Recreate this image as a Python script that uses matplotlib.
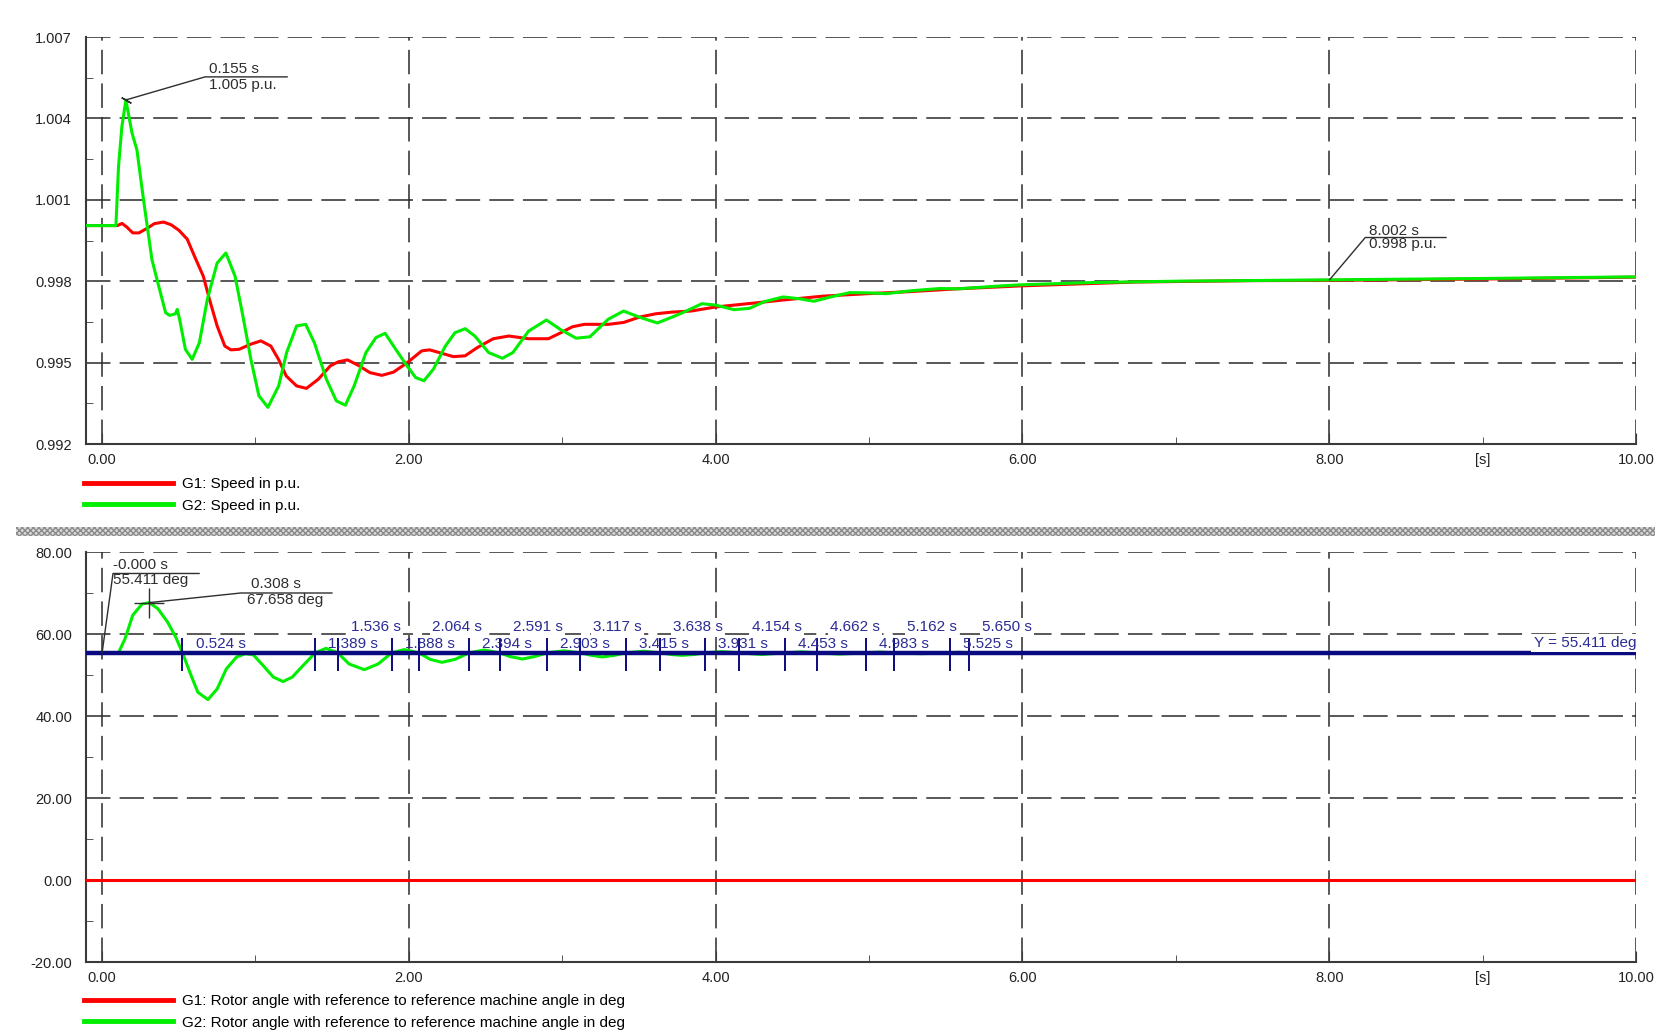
import matplotlib
matplotlib.use("Agg")
import matplotlib.pyplot as plt
from matplotlib.lines import Line2D
from matplotlib.patches import Rectangle
from matplotlib.ticker import MultipleLocator, FormatStrFormatter

plt.rcParams['font.family'] = ['Liberation Sans', 'DejaVu Sans']

# ---- speed (top plot) ----
t_g1_speed = [-0.105, 0.10, 0.13, 0.16, 0.20, 0.24, 0.297, 0.34, 0.40, 0.45, 0.50, 0.555,
              0.60, 0.66, 0.70, 0.75, 0.80, 0.84, 0.893, 0.97, 1.035, 1.10, 1.15, 1.20,
              1.268, 1.332, 1.41, 1.488, 1.54, 1.60, 1.67, 1.746, 1.824, 1.90, 1.99, 2.083,
              2.135, 2.21, 2.29, 2.367, 2.445, 2.55, 2.652, 2.78, 2.91, 2.99, 3.066, 3.144,
              3.30, 3.40, 3.505, 3.61, 3.713, 3.84, 4.0, 4.26, 4.41, 4.70, 4.99, 5.28,
              5.58, 6.0, 6.74, 7.5, 8.0, 9.0, 10.0]
g1_speed = [1.00005, 1.00005, 1.00013, 1.00000, 0.99978, 0.99978, 0.99996, 1.00012, 1.00018,
            1.00008, 0.99988, 0.99955, 0.99895, 0.99818, 0.99733, 0.99635, 0.99561, 0.99547,
            0.99549, 0.99568, 0.99580, 0.99561, 0.99512, 0.99451, 0.99414, 0.99405, 0.99439,
            0.99488, 0.99503, 0.99510, 0.99490, 0.99463, 0.99453, 0.99465, 0.99500, 0.99543,
            0.99547, 0.99535, 0.99522, 0.99525, 0.99555, 0.99588, 0.99598, 0.99588, 0.99588,
            0.99610, 0.99632, 0.99641, 0.99641, 0.99648, 0.99668, 0.99680, 0.99686, 0.99690,
            0.99705, 0.99720, 0.99729, 0.99745, 0.99754, 0.99762, 0.99772, 0.99783, 0.99797,
            0.99802, 0.99803, 0.99808, 0.99815]

t_g2_speed = [-0.105, 0.09, 0.107, 0.129, 0.155, 0.195, 0.227, 0.27, 0.325, 0.375, 0.414,
              0.44, 0.478, 0.49, 0.505, 0.543, 0.587, 0.634, 0.686, 0.75, 0.807, 0.867,
              0.918, 0.97, 1.022, 1.081, 1.151, 1.203, 1.268, 1.327, 1.384, 1.462, 1.527,
              1.586, 1.643, 1.72, 1.785, 1.845, 1.90, 1.98, 2.044, 2.098, 2.16, 2.238, 2.30,
              2.367, 2.43, 2.52, 2.61, 2.678, 2.78, 2.897, 2.988, 3.09, 3.18, 3.30, 3.40,
              3.50, 3.62, 3.77, 3.91, 4.00, 4.12, 4.22, 4.32, 4.44, 4.55, 4.64, 4.75, 4.876,
              5.00, 5.11, 5.28, 5.46, 5.58, 5.87, 6.0, 6.45, 7.0, 8.0, 9.0, 10.0]
g2_speed = [1.00005, 1.00005, 1.00223, 1.00370, 1.00468, 1.00346, 1.00284, 1.00100, 0.99879,
            0.99769, 0.99684, 0.99674, 0.99680, 0.99696, 0.99660, 0.99549, 0.99512, 0.99573,
            0.99733, 0.99867, 0.99904, 0.99818, 0.99671, 0.99512, 0.99378, 0.99335, 0.99414,
            0.99537, 0.99635, 0.99641, 0.99573, 0.99439, 0.99359, 0.99343, 0.99414, 0.99537,
            0.99592, 0.99608, 0.99561, 0.99494, 0.99445, 0.99433, 0.99476, 0.99561, 0.99610,
            0.99625, 0.99598, 0.99537, 0.99516, 0.99537, 0.99616, 0.99657, 0.99622, 0.99590,
            0.99595, 0.99660, 0.99690, 0.99668, 0.99646, 0.99680, 0.99717, 0.99712, 0.99695,
            0.99700, 0.99725, 0.99742, 0.99735, 0.99726, 0.99742, 0.99758, 0.99757, 0.99754,
            0.99765, 0.99773, 0.99772, 0.99783, 0.99787, 0.99795, 0.99800, 0.99805, 0.99810,
            0.99816]

# ---- rotor angle (bottom plot) ----
t_g1_angle = [-0.105, 10.0]
g1_angle = [0.0, 0.0]

t_g2_angle = [-0.105, 0.107, 0.15, 0.20, 0.26, 0.308, 0.363, 0.427, 0.48, 0.524, 0.58, 0.624,
              0.69, 0.75, 0.81, 0.877, 0.935, 0.986, 1.05, 1.116, 1.18, 1.24, 1.31, 1.389,
              1.46, 1.536, 1.61, 1.71, 1.80, 1.888, 1.97, 2.064, 2.14, 2.215, 2.30, 2.394,
              2.49, 2.591, 2.66, 2.74, 2.82, 2.903, 3.01, 3.117, 3.19, 3.26, 3.34, 3.415,
              3.53, 3.638, 3.71, 3.78, 3.86, 3.931, 4.04, 4.154, 4.30, 4.453, 4.56, 4.662,
              4.81, 4.983, 5.07, 5.162, 5.34, 5.525, 5.59, 5.650, 6.0, 7.0, 10.0]
g2_angle = [55.411, 55.411, 58.9, 64.6, 67.3, 67.658, 66.2, 62.9, 59.25, 55.411, 49.9, 45.8,
            44.0, 46.6, 51.5, 54.4, 55.2, 54.9, 52.3, 49.5, 48.4, 49.5, 52.3, 55.411,
            56.5, 55.411, 52.7, 51.3, 52.7, 55.411, 56.2, 55.411, 53.8, 53.1, 53.8, 55.411,
            56.1, 55.411, 54.5, 53.9, 54.5, 55.411, 55.9, 55.411, 54.8, 54.4, 54.8, 55.411,
            55.8, 55.411, 55.0, 54.8, 55.0, 55.411, 55.7, 55.411, 55.0, 55.411, 55.65, 55.411,
            55.1, 55.411, 55.6, 55.411, 55.2, 55.411, 55.55, 55.411, 55.35, 55.4, 55.41]

y_level = 55.411
cross_low = [0.524, 1.389, 1.888, 2.394, 2.903, 3.415, 3.931, 4.453, 4.983, 5.525]
cross_high = [1.536, 2.064, 2.591, 3.117, 3.638, 4.154, 4.662, 5.162, 5.650]

RED = '#ff0000'
GREEN = '#00ee00'
NAVY = '#0a0a80'
INK = '#2e2e2e'

W, H = 1655, 1031
fig = plt.figure(figsize=(W / 100, H / 100), dpi=100)


def box(l, t, r, b):
    return [l / W, 1 - b / H, (r - l) / W, (b - t) / H]


def style(ax, ymin, ymax, ystep, fmt):
    ax.set_xlim(-0.105, 10.0)
    ax.set_ylim(ymin, ymax)
    ax.xaxis.set_major_locator(MultipleLocator(2))
    ax.xaxis.set_minor_locator(MultipleLocator(1))
    ax.yaxis.set_major_locator(MultipleLocator(ystep, offset=ymin % ystep))
    ax.yaxis.set_minor_locator(MultipleLocator(ystep / 2, offset=ymin % (ystep / 2)))
    ax.xaxis.set_major_formatter(FormatStrFormatter('%.2f'))
    ax.yaxis.set_major_formatter(FormatStrFormatter(fmt))
    for s in ('top', 'right'):
        ax.spines[s].set_visible(False)
    for s in ('left', 'bottom'):
        ax.spines[s].set_color('#3a3a3a')
        ax.spines[s].set_linewidth(1.5)
    ax.tick_params(which='both', direction='in', colors='#3a3a3a',
                   labelcolor='#222222', labelsize=10.5)
    ax.tick_params(axis='y', which='major', length=0, pad=10)
    ax.tick_params(axis='y', which='minor', length=5)
    ax.tick_params(axis='x', which='major', length=8, pad=6.5)
    ax.tick_params(axis='x', which='minor', length=5)
    ax.grid(True, which='major', color='#2a2a2a', lw=1.1, ls=(0, (16, 6)))
    ax.annotate('[s]', xy=(9.0, 0), xycoords=('data', 'axes fraction'),
                xytext=(0, -6.5), textcoords='offset points', ha='center', va='top',
                fontsize=10.5, color='#222222')


# ---------------- top: speed ----------------
ax1 = fig.add_axes(box(86, 37, 1636, 444))
style(ax1, 0.992, 1.007, 0.003, '%.3f')
ax1.plot(t_g1_speed, g1_speed, color=RED, lw=2.2, zorder=3)
ax1.plot(t_g2_speed, g2_speed, color=GREEN, lw=2.2, zorder=4)

ax1.plot([0.155, 0.671, 1.206], [1.00468, 1.00553, 1.00553], color=INK, lw=1, clip_on=False, zorder=5)
ax1.plot(0.155, 1.00468, marker=(2, 2, 60), ms=8, mew=1, color=INK, zorder=5)
ax1.text(0.70, 1.00582, '0.155 s', fontsize=11, color=INK, va='center', ha='left')
ax1.text(0.70, 1.00522, '1.005 p.u.', fontsize=11, color=INK, va='center', ha='left')

ax1.plot([8.002, 8.235, 8.761], [0.99805, 0.99961, 0.99961], color=INK, lw=1, zorder=5)
ax1.text(8.26, 0.99986, '8.002 s', fontsize=11, color=INK, va='center', ha='left')
ax1.text(8.26, 0.99937, '0.998 p.u.', fontsize=11, color=INK, va='center', ha='left')

h1 = [Line2D([], [], color=RED, lw=3.5), Line2D([], [], color=GREEN, lw=3.5)]
ax1.legend(h1, ['G1: Speed in p.u.', 'G2: Speed in p.u.'], loc='upper left',
           bbox_to_anchor=(84 / W, 1 - 477 / H), bbox_transform=fig.transFigure,
           frameon=False, fontsize=11, handlelength=5.8, handletextpad=0.6,
           borderpad=0, borderaxespad=0, labelspacing=0.5)

# separator band between the two plots
fig.add_artist(Rectangle((16 / W, 1 - 536 / H), (W - 16) / W, 9 / H, transform=fig.transFigure,
                         facecolor='#dadada', edgecolor='#8c8c8c', hatch='xxxxxx', lw=0))

# ---------------- bottom: rotor angle ----------------
ax2 = fig.add_axes(box(86, 552, 1636, 962))
style(ax2, -20, 80, 20, '%.2f')
ax2.plot(t_g1_angle, g1_angle, color=RED, lw=2.2, zorder=3)
ax2.plot(t_g2_angle, g2_angle, color=GREEN, lw=2.2, zorder=3)
ax2.axhline(y_level, color=NAVY, lw=3.2, zorder=4)
ax2.vlines(cross_low + cross_high, 51.0, 59.0, color=NAVY, lw=1.4, zorder=4)
for t in cross_low:
    ax2.text(t + 0.085, 57.5, '%.3f s' % t, fontsize=11, color='#2b2b95',
             ha='left', va='center', zorder=6)
for t in cross_high:
    ax2.text(t + 0.085, 61.6, '%.3f s' % t, fontsize=11, color='#2b2b95',
             ha='left', va='center', zorder=5,
             bbox=dict(facecolor='white', edgecolor='none', pad=1.5))
ax2.text(10.0, 57.8, 'Y = 55.411 deg', fontsize=11, color='#2b2b95', ha='right',
         va='center', zorder=6, bbox=dict(facecolor='white', edgecolor='none', pad=1.5))

ax2.plot([0.0, 0.071, 0.632], [55.411, 74.76, 74.76], color=INK, lw=1, zorder=5, clip_on=False)
ax2.text(0.072, 76.8, '-0.000 s', fontsize=11, color=INK, va='center', ha='left')
ax2.text(0.072, 73.1, '55.411 deg', fontsize=11, color=INK, va='center', ha='left')

ax2.plot([0.308, 0.904, 1.498], [67.658, 70.0, 70.0], color=INK, lw=1, zorder=5)
ax2.plot(0.308, 67.658, marker='+', ms=22, mew=1, color=INK, zorder=5)
ax2.text(0.97, 72.1, '0.308 s', fontsize=11, color=INK, va='center', ha='left')
ax2.text(0.945, 68.2, '67.658 deg', fontsize=11, color=INK, va='center', ha='left')

h2 = [Line2D([], [], color=RED, lw=3.5), Line2D([], [], color=GREEN, lw=3.5)]
ax2.legend(h2, ['G1: Rotor angle with reference to reference machine angle in deg',
                'G2: Rotor angle with reference to reference machine angle in deg'],
           loc='upper left', bbox_to_anchor=(84 / W, 1 - 994 / H),
           bbox_transform=fig.transFigure, frameon=False, fontsize=11,
           handlelength=5.8, handletextpad=0.6, borderpad=0, borderaxespad=0,
           labelspacing=0.5)

fig.savefig('out.png', dpi=100)
